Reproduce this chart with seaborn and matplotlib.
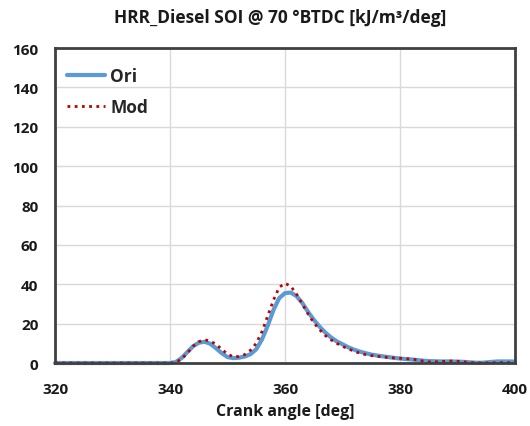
import matplotlib
matplotlib.use("Agg")
import matplotlib.pyplot as plt
import seaborn as sns
import pandas as pd
import numpy as np

crank = list(range(320, 401))
ori = [0.0] * 21 + [
    0.5, 2.5, 5.5, 8.5, 10.3, 10.8, 9.8, 7.5, 5.0, 3.0,
    2.5, 2.7, 3.3, 4.5, 7.0, 12.0, 19.0, 27.0, 33.0, 35.5,
    35.8, 34.0, 30.5, 26.0, 22.0, 18.5, 15.5, 13.0, 11.0, 9.5,
    8.0, 6.8, 5.8, 5.0, 4.3, 3.8, 3.4, 3.0, 2.6, 2.3,
    2.0, 1.8, 1.5, 1.2, 1.0, 0.9, 0.8, 0.8, 0.8, 0.7,
    0.6, 0.4, 0.2, 0.1, 0.3, 0.6, 0.8, 0.8, 0.8, 0.7]
mod = [0.0] * 21 + [
    0.3, 2.0, 5.0, 8.5, 10.8, 11.8, 11.2, 9.5, 7.0, 4.5,
    3.2, 3.3, 4.3, 6.5, 10.0, 16.0, 24.0, 32.0, 38.5, 40.5,
    39.0, 35.0, 30.0, 25.0, 20.5, 17.0, 14.0, 11.8, 10.0, 8.5,
    7.2, 6.0, 5.0, 4.3, 3.8, 3.4, 3.1, 2.8, 2.6, 2.4,
    2.2, 2.0, 1.6, 1.0, 0.6, 0.6, 0.7, 0.9, 1.0, 0.9,
    0.6, 0.3, 0.1, 0.1, 0.1, 0.1, 0.2, 0.2, 0.2, 0.2]
series_names = ["Ori", "Mod"]
xticks = [320, 340, 360, 380, 400]
yticks = [0, 20, 40, 60, 80, 100, 120, 140, 160]

sns.set_theme(style="white")
plt.rcParams['font.family'] = ['Open Sans', 'DejaVu Sans']

df = pd.DataFrame({"crank": crank * 2,
                   "hrr": ori + mod,
                   "series": [series_names[0]] * len(crank) + [series_names[1]] * len(crank)})

fig = plt.figure(figsize=(5.30, 4.27), dpi=100)
ax = fig.add_axes([0.1038, 0.1475, 0.8679, 0.7377])

sns.lineplot(data=df[df.series == "Ori"], x="crank", y="hrr", ax=ax,
             color="#5b9bd5", lw=3, label="Ori", clip_on=False)
sns.lineplot(data=df[df.series == "Mod"], x="crank", y="hrr", ax=ax,
             color="#c00000", lw=2, linestyle=(0, (1, 1.6)), label="Mod", clip_on=False)

ax.set_xlim(320, 400)
ax.set_ylim(0, 160)
ax.set_xticks(xticks)
ax.set_yticks(yticks)
ax.grid(True, color="#d9d9d9", lw=1)
ax.set_axisbelow(True)
for s in ax.spines.values():
    s.set_color("#404040")
    s.set_linewidth(2)
    s.set_zorder(5)
ax.tick_params(axis="both", length=0, labelsize=11, colors="#1a1a1a")
ax.tick_params(axis="x", pad=14)
ax.tick_params(axis="y", pad=12)
for lab in ax.get_xticklabels() + ax.get_yticklabels():
    lab.set_fontweight("bold")
ax.set_xlabel("Crank angle [deg]", fontsize=11.5, fontweight="bold", color="#1a1a1a", labelpad=5)
ax.set_ylabel("")
fig.suptitle("HRR_Diesel SOI @ 70 °BTDC [kJ/m³/deg]", x=0.528, y=0.978,
             fontsize=12.5, fontweight="bold", color="#1a1a1a")

leg = ax.legend(loc="upper left", bbox_to_anchor=(-0.008, 0.99), frameon=False,
                handlelength=2.2, labelspacing=0.75, handletextpad=0.3,
                prop={"weight": "bold", "size": 12.5})
fig.savefig("out.png", dpi=100)
